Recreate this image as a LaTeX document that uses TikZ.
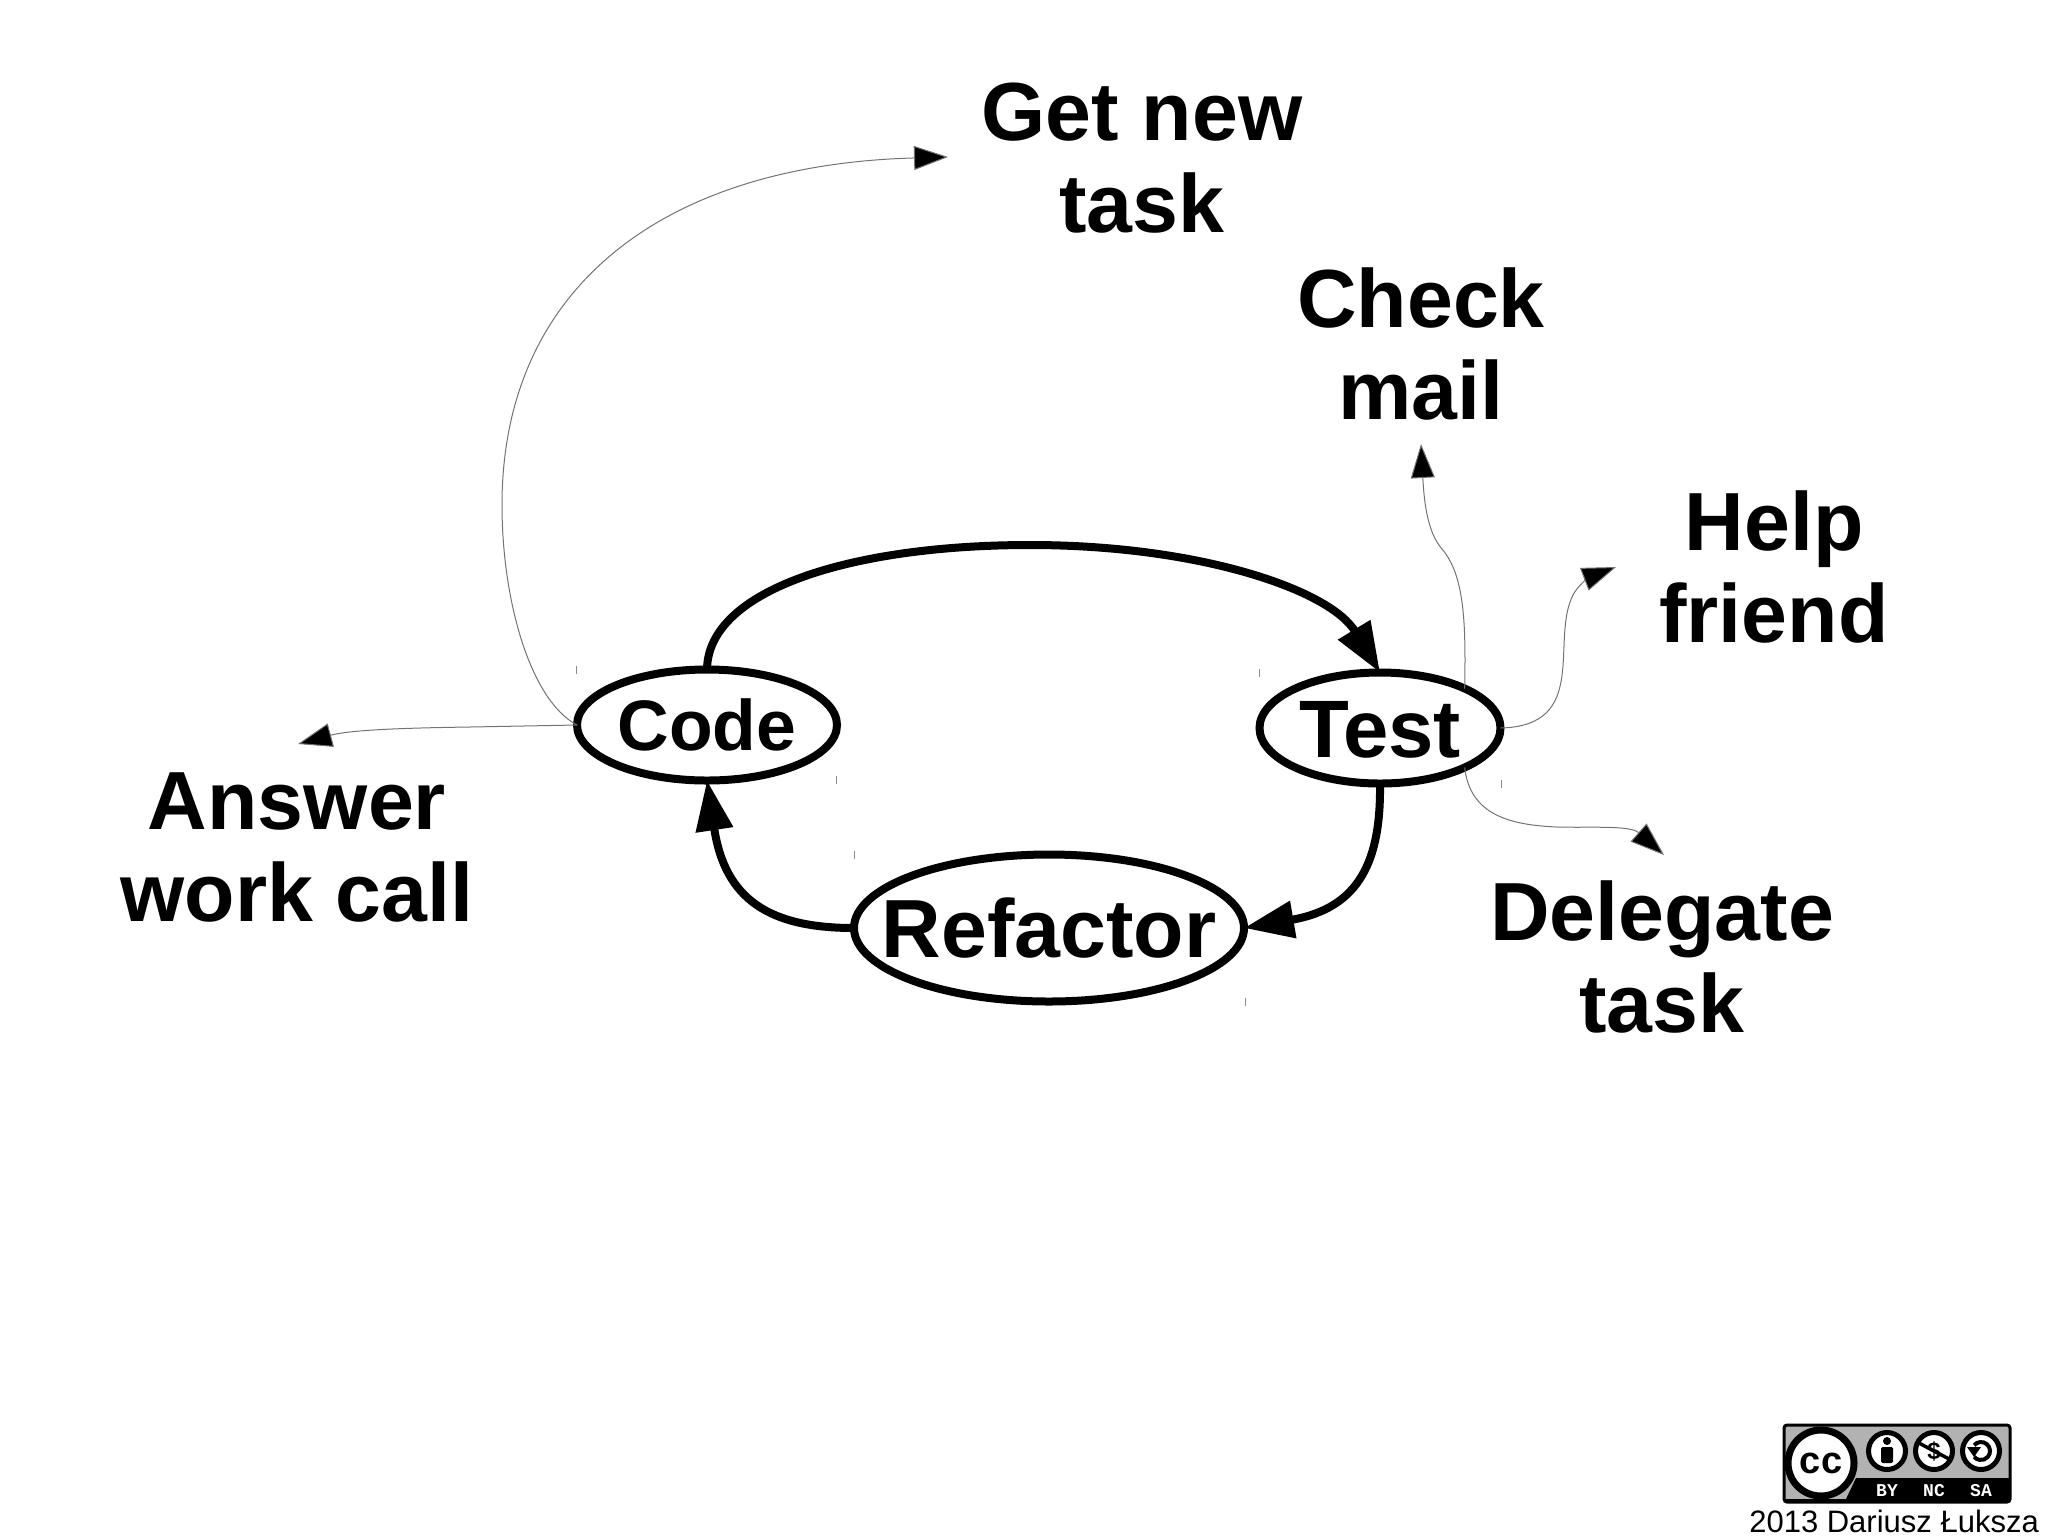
\documentclass[tikz,border=0pt]{standalone}
\usepackage{fontspec}
\setmainfont{Liberation Sans}
\newfontfamily\badgemono{Liberation Mono}
\usetikzlibrary{shapes.geometric,arrows.meta}
\newcommand{\ctext}[2]{\fontsize{#1}{#1}\selectfont\bfseries\raisebox{-.36em}[0pt][0pt]{\makebox[0pt]{#2}}}
\tikzset{
  state/.style={ellipse,draw=black,line width=8pt,inner sep=0pt,outer sep=0pt},
  task/.style={align=center,inner sep=0pt,font=\fontsize{82.5}{92}\selectfont\bfseries},
  main/.style={draw=black,line width=8pt},
  side/.style={draw=black!55,line width=1pt},
  tick/.style={draw=black!45,line width=1pt},
  bigtip/.style={-{Triangle[length=50pt,width=36pt,fill=black]}},
  smalltip/.style={-{Triangle[length=34pt,width=24pt,fill=black]}},
  ring/.style={draw=black,fill=white,line width=5pt},
}
\begin{document}
\begin{tikzpicture}[x=1pt,y=-1pt]
\useasboundingbox (0,0) rectangle (2048,1535);
% states
\node[state,minimum width=260pt,minimum height=111pt] (code) at (707,725) {\ctext{71.5}{Code}};
\node[state,minimum width=241pt,minimum height=111pt] (test) at (1380,728) {\ctext{81.5}{Test}};
\node[state,minimum width=390pt,minimum height=147pt] (refactor) at (1049,928) {\ctext{82.5}{Refactor}};
% labels
\node[task] (newtask) at (1142,158) {Get new\\task};
\node[task] (mail) at (1421,344) {Check\\mail};
\node[task] (help) at (1774,567) {Help\\friend};
\node[task] (delegate) at (1662,957) {Delegate\\task};
\node[task] (answer) at (297,848) {Answer\\work call};
% free ends
\coordinate (tipnew) at (948,157);
\coordinate (tipanswer) at (298,744);
\coordinate (tipmail) at (1421,444);
\coordinate (tiphelp) at (1616,567);
\coordinate (tipdelegate) at (1664,855);
% main cycle
\draw[main,bigtip] (code.north) .. controls (708,590) and (850,545) .. (1030,545)
  .. controls (1200,545) and (1330,590) .. (test.north);
\draw[main,bigtip] (test.south) .. controls (1381,860) and (1360,908) .. (refactor.east);
\draw[main,bigtip] (refactor.west) .. controls (770,928) and (725,900) .. (code.south);
% side connectors
\draw[side,smalltip] (code.west) .. controls (530,700) and (502,600) .. (502,505)
  .. controls (502,290) and (660,165) .. (tipnew);
\draw[side,smalltip] (code.west) -- (470,727) .. controls (400,728) and (350,730) .. (tipanswer);
\draw[side,smalltip] (test.25) .. controls (1466,620) and (1464,575) .. (1442,549)
  .. controls (1427,532) and (1424,500) .. (tipmail);
\draw[side,smalltip] (test.east) .. controls (1590,726) and (1550,640) .. (1573,595)
  .. controls (1578,585) and (1590,577) .. (tiphelp);
\draw[side,smalltip] (test.-25) .. controls (1470,815) and (1510,825) .. (1557,827)
  .. controls (1590,828) and (1630,825) .. (tipdelegate);
% small marks
\foreach \mx/\my in {576/666,836/776,854/851,1259/669,1501/780,1245/998}
  \draw[tick] (\mx,\my) -- ++(0,8);
% licence badge
\draw[fill=black!30,draw=black,line width=3pt,rounded corners=3pt] (1784,1425) rectangle (2010,1502);
\fill[black] (1856,1478) -- (2010,1478) -- (2010,1502) -- (1784,1502) -- (1784,1499) -- (1846,1499) -- cycle;
\node[circle,ring,line width=7pt,minimum size=66pt,inner sep=0pt,font=\fontsize{38}{38}\selectfont\bfseries] (cc) at (1821,1463) {cc};
\node[circle,ring,minimum size=37pt,inner sep=0pt] (by) at (1887,1451) {};
\fill[black] (1887,1441) circle (4pt);
\fill[black,rounded corners=1.5pt] (1881,1447) rectangle (1893,1463);
\node[circle,ring,minimum size=37pt,inner sep=0pt,font=\fontsize{24}{24}\selectfont\bfseries] (nc) at (1934,1451) {\$};
\draw[line width=3.5pt] (1917,1442) -- (1951,1460);
\node[circle,ring,minimum size=37pt,inner sep=0pt] (sa) at (1981,1451) {};
\draw[line width=4pt] (1981,1451) ++(140:9pt) arc[start angle=140,end angle=-140,radius=9pt];
\fill[black] (1967,1447) -- (1981,1447) -- (1974,1457) -- cycle;
\node[text=white,inner sep=0pt,font=\fontsize{18}{18}\selectfont\badgemono\bfseries] (bylabel) at (1887,1491) {BY};
\node[text=white,inner sep=0pt,font=\fontsize{18}{18}\selectfont\badgemono\bfseries] (nclabel) at (1934,1491) {NC};
\node[text=white,inner sep=0pt,font=\fontsize{18}{18}\selectfont\badgemono\bfseries] (salabel) at (1981,1491) {SA};
\node[anchor=base east,inner sep=0pt,font=\fontsize{31}{31}\selectfont] (credit) at (2039,1532) {2013 Dariusz Łuksza};
\end{tikzpicture}
\end{document}
